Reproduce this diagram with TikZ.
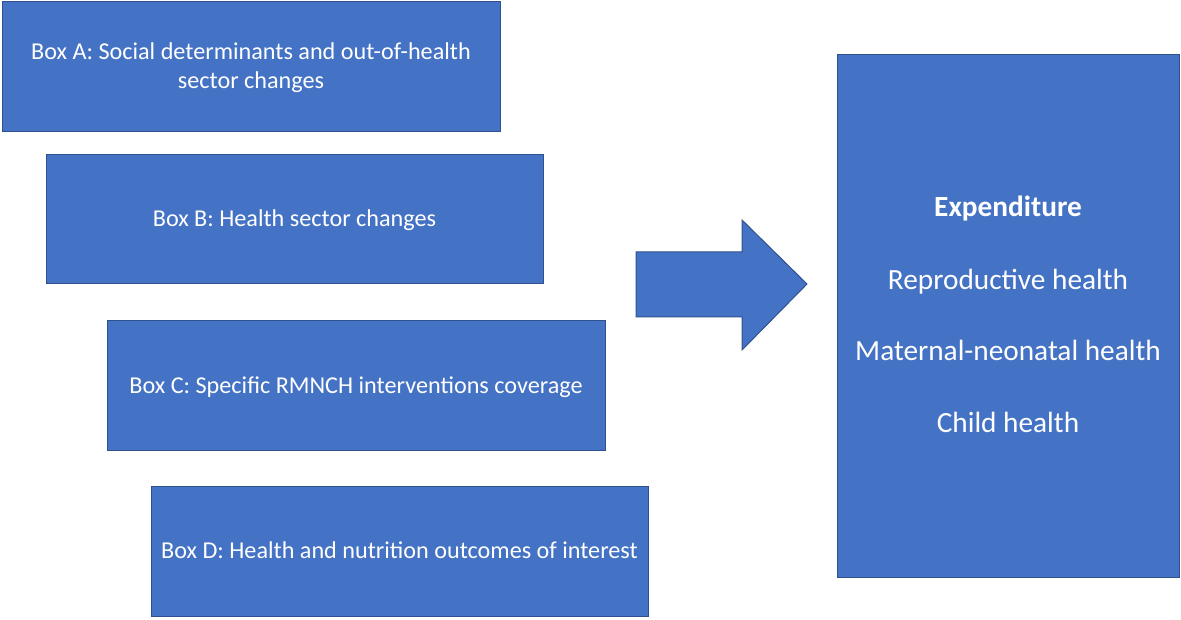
\documentclass[tikz,border=0pt]{standalone}
\usepackage{fontspec}
\setmainfont{Carlito}
\definecolor{boxfill}{HTML}{4472C4}
\definecolor{boxline}{HTML}{2F528F}
\begin{document}
\begin{tikzpicture}[x=1pt,y=-1pt,
  box/.style={draw=boxline,fill=boxfill,line width=1pt,inner sep=0pt},
  txt/.style={text=white,font=\fontsize{24.2}{30}\selectfont,inner sep=0pt,align=center},
  bigtxt/.style={text=white,font=\fontsize{29.3}{34}\selectfont,inner sep=0pt}]
\useasboundingbox (0,0) rectangle (1181,620);
\node[box,minimum width=498pt,minimum height=130pt] (A) at (251,67) {};
\node[box,minimum width=497pt,minimum height=129pt] (B) at (294.5,219.5) {};
\node[box,minimum width=498pt,minimum height=129pt] (C) at (356,385.5) {};
\node[box,minimum width=497pt,minimum height=130pt] (D) at (399.5,551) {};
\node[box,minimum width=342pt,minimum height=522pt] (E) at (1008,316) {};
\node[txt,anchor=base] (tA1) at (251,60) {Box A: Social determinants and out-of-health};
\node[txt,anchor=base] (tA2) at (251,89) {sector changes};
\node[txt,anchor=base] (tB) at (294.5,227) {Box B: Health sector changes};
\node[txt,anchor=base] (tC) at (356,393) {Box C: Specific RMNCH interventions coverage};
\node[txt,anchor=base] (tD) at (399.5,558) {Box D: Health and nutrition outcomes of interest};
\node[bigtxt,anchor=base,font=\fontsize{29.3}{34}\selectfont\bfseries] (e0) at (1008,217) {Expenditure};
\node[bigtxt,anchor=base] (e1) at (1008,290) {Reproductive health};
\node[bigtxt,anchor=base] (e2) at (1008,360) {Maternal-neonatal health};
\node[bigtxt,anchor=base] (e3) at (1008,432) {Child health};
\coordinate (a0) at (636,252);
\draw[box] (a0) -- (742,252) -- (742,220) -- (807,284) -- (742,350) -- (742,317) -- (636,317) -- cycle;
\end{tikzpicture}
\end{document}
